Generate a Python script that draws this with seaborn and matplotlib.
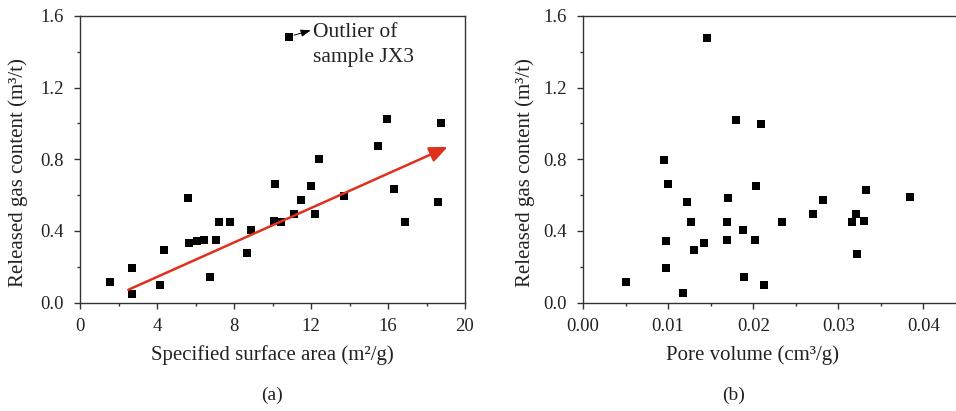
import numpy as np
import pandas as pd
import matplotlib
matplotlib.use("Agg")
import matplotlib.pyplot as plt
from matplotlib.ticker import MultipleLocator
import seaborn as sns

# ---- data ----
ssa = [1.55, 2.71, 2.71, 4.17, 4.38, 5.60, 5.64, 6.09, 6.43, 6.73, 7.05, 7.21, 7.78,
       8.69, 8.86, 10.07, 10.14, 10.43, 11.11, 11.47, 11.99, 12.22, 12.43, 13.69,
       15.48, 15.95, 16.31, 16.90, 18.59, 18.74, 10.86]
gas_a = [0.112, 0.192, 0.049, 0.098, 0.291, 0.582, 0.331, 0.344, 0.351, 0.142, 0.351,
         0.449, 0.449, 0.274, 0.404, 0.453, 0.663, 0.447, 0.497, 0.573, 0.648, 0.496,
         0.801, 0.592, 0.874, 1.025, 0.633, 0.452, 0.564, 1.003, 1.481]

pore = [0.01462, 0.01803, 0.02093, 0.0095, 0.00993, 0.01221, 0.01702, 0.02038, 0.01271,
        0.01697, 0.01878, 0.00978, 0.01303, 0.01424, 0.01694, 0.02022, 0.00978, 0.0050,
        0.01174, 0.0189, 0.02128, 0.02336, 0.02707, 0.02817, 0.03161, 0.03211, 0.03302,
        0.03329, 0.03223, 0.03838]
gas_b = [1.478, 1.021, 0.999, 0.797, 0.663, 0.562, 0.581, 0.648, 0.450, 0.450, 0.404,
         0.346, 0.292, 0.335, 0.351, 0.351, 0.195, 0.113, 0.051, 0.143, 0.098, 0.447,
         0.497, 0.573, 0.452, 0.497, 0.456, 0.631, 0.273, 0.590]

trend_x = [2.51, 19.1]
trend_y = [0.071, 0.869]

outlier_label = ["Outlier of", "sample JX3"]

df_a = pd.DataFrame({"x": ssa, "y": gas_a})
df_b = pd.DataFrame({"x": pore, "y": gas_b})

sns.set_style("ticks")
plt.rcParams["font.family"] = ["Liberation Serif", "DejaVu Serif"]

W, H = 956, 411
fig = plt.figure(figsize=(W / 100, H / 100), dpi=100)

def px_axes(l, r, t, b):
    return fig.add_axes([l / W, 1 - b / H, (r - l) / W, (b - t) / H])

axL = px_axes(80, 465, 16, 302.5)
axR = px_axes(583, 966, 16, 302.5)

tick_fs = 13.5
lab_fs = 15
txt = "#222222"
edge = "#333333"

for ax in (axL, axR):
    for s in ax.spines.values():
        s.set_color(edge)
        s.set_linewidth(1.0)
    ax.tick_params(which="major", direction="out", length=4.5, width=1.0,
                   color=edge, labelsize=tick_fs, pad=7, labelcolor=txt)
    ax.tick_params(which="minor", direction="out", length=2.5, width=1.0, color=edge)
    ax.set_ylim(0, 1.6)
    ax.yaxis.set_major_locator(MultipleLocator(0.4))
    ax.yaxis.set_minor_locator(MultipleLocator(0.2))
    ax.yaxis.set_major_formatter(matplotlib.ticker.FormatStrFormatter("%.1f"))

sns.scatterplot(data=df_a, x="x", y="y", ax=axL, marker="s", s=32, color="black",
                linewidth=0, zorder=3)
sns.scatterplot(data=df_b, x="x", y="y", ax=axR, marker="s", s=32, color="black",
                linewidth=0, zorder=3)

axL.set_xlim(0, 20)
axL.xaxis.set_major_locator(MultipleLocator(4))
axL.xaxis.set_minor_locator(MultipleLocator(2))

axR.set_xlim(0, 0.045)
axR.xaxis.set_major_locator(MultipleLocator(0.01))
axR.xaxis.set_minor_locator(MultipleLocator(0.005))
axR.xaxis.set_major_formatter(matplotlib.ticker.FormatStrFormatter("%.2f"))

# trend arrow
axL.annotate("", xy=(trend_x[1], trend_y[1]), xytext=(trend_x[0], trend_y[0]),
             arrowprops=dict(arrowstyle="-|>,head_length=0.6,head_width=0.26",
                             color="#e0301e", lw=1.8, mutation_scale=18,
                             shrinkA=0, shrinkB=0), zorder=4)

# outlier annotation
axL.annotate("", xy=(11.99, 1.520), xytext=(11.12, 1.493),
             arrowprops=dict(arrowstyle="-|>,head_length=0.5,head_width=0.18",
                             color="black", lw=0.7, mutation_scale=12,
                             shrinkA=0, shrinkB=0))
axL.text(12.1, 1.481, outlier_label[0], fontsize=15.5, va="baseline", ha="left",
         color=txt)
axL.text(12.1, 1.343, outlier_label[1], fontsize=15.5, va="baseline", ha="left",
         color=txt)

axL.set_xlabel("Specified surface area (m²/g)", fontsize=lab_fs, color=txt)
axR.set_xlabel("Pore volume (cm³/g)", fontsize=lab_fs, color=txt)
for ax in (axL, axR):
    ax.set_ylabel("Released gas content (m³/t)", fontsize=lab_fs, color=txt)

axL.xaxis.set_label_coords(0.5, -0.148)
axR.xaxis.set_label_coords((752 - 583) / 383, -0.148)
axL.yaxis.set_label_coords((28 - 80) / 385, 0.455)
axR.yaxis.set_label_coords((535 - 583) / 383, 0.455)

fig.text(272.5 / W, 1 - 395 / H, "(a)", fontsize=14, ha="center", va="center",
         color=txt)
fig.text(734 / W, 1 - 395 / H, "(b)", fontsize=14, ha="center", va="center",
         color=txt)

fig.savefig("out.png", dpi=100)
